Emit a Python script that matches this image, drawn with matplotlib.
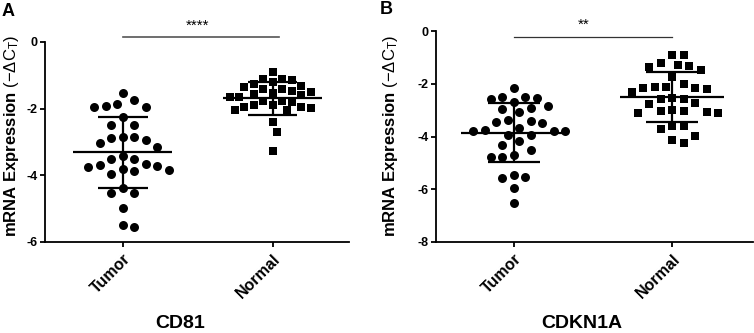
import numpy as np
import matplotlib
matplotlib.use("Agg")
import matplotlib.pyplot as plt

plt.rcParams['font.family'] = ['Liberation Sans', 'DejaVu Sans']
plt.rcParams['mathtext.fontset'] = 'custom'
plt.rcParams['mathtext.rm'] = 'Liberation Sans'
plt.rcParams['mathtext.it'] = 'Liberation Sans:italic'
plt.rcParams['mathtext.bf'] = 'Liberation Sans:bold'

# ---------------- data ----------------
groups = ["Tumor", "Normal"]

cd81_tumor = [-1.54, -1.87, -1.94, -1.94, -1.91, -1.73, -2.26, -2.49, -2.49,
              -2.86, -2.88, -3.02, -2.94, -2.86, -3.14, -3.41, -3.51, -3.51,
              -3.66, -3.72, -3.81, -3.88, -3.95, -3.84, -3.75, -3.70, -4.39,
              -4.54, -4.52, -4.97, -5.54, -5.48]
cd81_normal = [-0.89, -1.11, -1.14, -1.11, -1.21, -1.26, -1.36, -1.41, -1.49,
               -1.56, -1.64, -1.31, -1.40, -1.47, -1.54, -1.60, -1.66, -1.77,
               -1.89, -1.96, -1.99, -2.04, -2.04, -1.96, -1.89, -1.79, -1.76,
               -2.41, -2.69, -3.26]
cdkn1a_tumor = [-2.16, -2.50, -2.69, -2.54, -2.58, -2.51, -2.92, -2.96, -2.86,
                -3.08, -3.40, -3.49, -3.45, -3.36, -3.77, -3.93, -3.78, -3.78,
                -3.78, -3.68, -3.93, -4.18, -4.31, -4.50, -4.78, -4.79, -4.69,
                -5.59, -5.46, -5.52, -5.97, -6.53]
cdkn1a_normal = [-0.91, -0.91, -1.29, -1.35, -1.32, -1.23, -1.48, -1.73, -2.15,
                 -2.02, -2.30, -2.11, -2.11, -2.20, -2.15, -2.55, -2.58, -2.58,
                 -2.78, -2.74, -3.02, -3.06, -3.12, -3.12, -3.04, -2.99, -3.60,
                 -3.72, -3.60, -3.97, -4.26, -4.13]

panel_letters = ["A", "B"]
gene_names = ["CD81", "CDKN1A"]
sig_labels = ["****", "**"]
yticks_a = [0, -2, -4, -6]
yticks_b = [0, -2, -4, -6, -8]

# ---------------- figure ----------------
W, H = 754, 333
fig = plt.figure(figsize=(W / 100, H / 100), dpi=100)


def add_axes(l, t, r, b):
    return fig.add_axes([l / W, 1 - b / H, (r - l) / W, (b - t) / H])


def swarm_offsets(ax, values, center, d_px):
    vals = np.asarray(values, dtype=float)
    pts = ax.transData.transform(np.column_stack([np.full(len(vals), center), vals]))
    ys = pts[:, 1]
    order = np.argsort(-vals)
    step = d_px / 2.0
    cands = [0.0]
    for m in range(1, 60):
        cands += [m * step, -m * step]
    placed = []
    offs = np.zeros(len(vals))
    for i in order:
        y = ys[i]
        chosen = 0.0
        for c in cands:
            ok = True
            for px, py in placed:
                if (c - px) ** 2 + (y - py) ** 2 < d_px ** 2:
                    ok = False
                    break
            if ok:
                chosen = c
                break
        placed.append((chosen, y))
        offs[i] = chosen
    x0 = ax.transData.transform((center, 0))[0]
    x1 = ax.transData.transform((center + 1, 0))[0]
    return center + offs / (x1 - x0)


def style_axes(ax, ylim, yticks):
    ax.set_xlim(-0.5, 1.5)
    ax.set_ylim(*ylim)
    ax.set_yticks(yticks)
    ax.set_yticklabels([str(t) for t in yticks], fontsize=9, fontweight='bold')
    ax.set_xticks([0, 1])
    ax.set_xticklabels(groups, rotation=45, ha='right', rotation_mode='anchor',
                       fontsize=11.5, fontweight='bold')
    for s in ['top', 'right']:
        ax.spines[s].set_visible(False)
    for s in ['left', 'bottom']:
        ax.spines[s].set_linewidth(1.3)
    ax.tick_params(axis='both', length=3.5, width=1.3, direction='out', pad=2)
    ax.tick_params(axis='x', pad=3)


def draw_group(ax, values, center, marker, size, d_px):
    xs = swarm_offsets(ax, values, center, d_px)
    ax.scatter(xs, values, marker=marker, s=size, color='black', linewidths=0,
               zorder=3, clip_on=False)
    m = np.mean(values)
    sd = np.std(values, ddof=1)
    ax.hlines(m, center - 0.33, center + 0.33, color='black', lw=1.6, zorder=4)
    ax.vlines(center, m - sd, m + sd, color='black', lw=1.6, zorder=4)
    ax.hlines([m - sd, m + sd], center - 0.165, center + 0.165, color='black',
              lw=1.6, zorder=4)


axA = add_axes(45, 42, 349, 242)
axB = add_axes(436, 31, 753, 242)

style_axes(axA, (-6, 0), yticks_a)
axA.set_xlim(-0.52, 1.51)
style_axes(axB, (-8, 0), yticks_b)
axB.set_xlim(-0.49, 1.51)

draw_group(axA, cd81_tumor, 0, 'o', 42, 11.5)
draw_group(axA, cd81_normal, 1, 's', 36, 9.5)
draw_group(axB, cdkn1a_tumor, 0, 'o', 42, 11.5)
draw_group(axB, cdkn1a_normal, 1, 's', 36, 11.5)

# significance bars
axA.plot([0, 1.04], [0.16, 0.16], color='#555555', lw=1.2, clip_on=False)
axA.text(0.5, 0.36, sig_labels[0], ha='center', va='baseline', fontsize=11,
         clip_on=False)
axB.plot([0, 1.0], [-0.22, -0.22], color='#333333', lw=0.9, clip_on=False)
axB.text(0.44, 0.08, sig_labels[1], ha='center', va='baseline', fontsize=11,
         clip_on=False)

ylabel = r"mRNA Expression $\mathrm{(-\Delta C_T)}$"
fig.text(12 / W, 1 - 136 / H, ylabel, rotation=90, ha='center', va='center',
         fontsize=12, fontweight='bold')
fig.text(391 / W, 1 - 136 / H, ylabel, rotation=90, ha='center', va='center',
         fontsize=12, fontweight='bold')

fig.text(180 / W, 1 - 324 / H, gene_names[0], ha='center', va='center',
         fontsize=14, fontweight='bold')
fig.text(582 / W, 1 - 324 / H, gene_names[1], ha='center', va='center',
         fontsize=14, fontweight='bold')

fig.text(2 / W, 1 - 11 / H, panel_letters[0], ha='left', va='center',
         fontsize=13, fontweight='bold')
fig.text(380 / W, 1 - 10 / H, panel_letters[1], ha='left', va='center',
         fontsize=13, fontweight='bold')

fig.savefig("out.png", dpi=100, facecolor='white')
